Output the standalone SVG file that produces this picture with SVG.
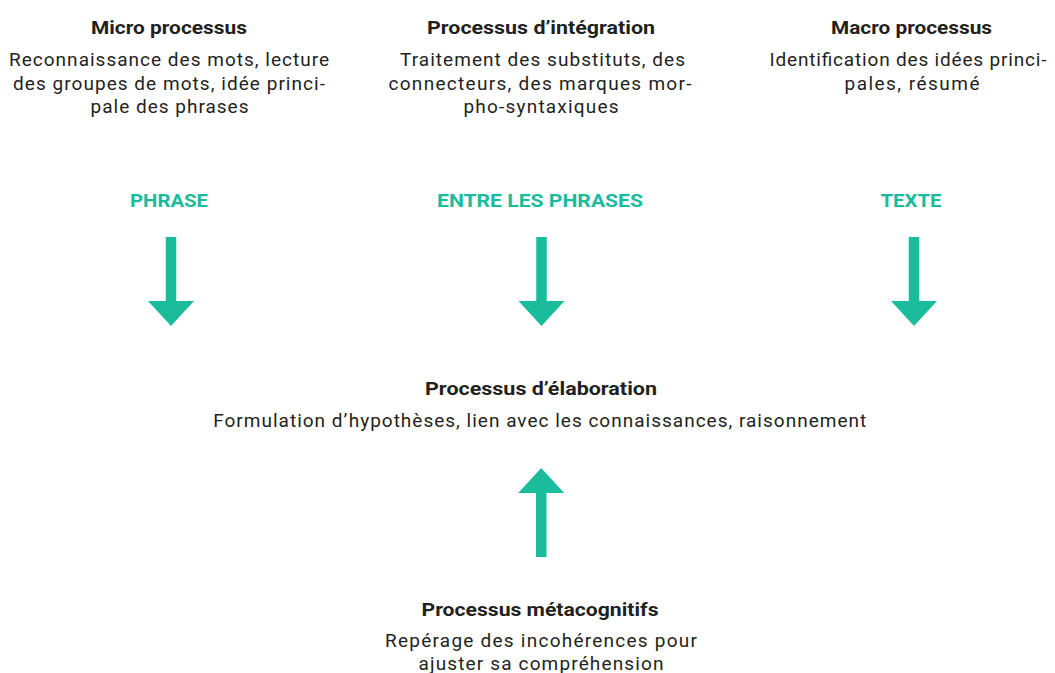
<svg xmlns="http://www.w3.org/2000/svg" width="1055" height="673" viewBox="0 0 1055 673">
<style>
text{font-family:Roboto,"Liberation Sans",Arial,sans-serif;font-size:19px;fill:#231F20;text-anchor:middle}
.h{font-weight:bold}
.lvl{font-weight:bold;fill:#1ABC9C}
.arrow{fill:#1ABC9C}
</style>
<rect width="1055" height="673" fill="#FFFFFF"/>
<g id="micro">
<text class="h" x="169" y="34" textLength="156" lengthAdjust="spacingAndGlyphs">Micro processus</text>
<text x="169" y="66" textLength="320" lengthAdjust="spacing">Reconnaissance des mots, lecture</text>
<text x="169" y="89.5" textLength="312" lengthAdjust="spacing">des groupes de mots, idée princi-</text>
<text x="169.5" y="113" textLength="158" lengthAdjust="spacing">pale des phrases</text>
</g>
<g id="integration">
<text class="h" x="541" y="34" textLength="228" lengthAdjust="spacingAndGlyphs">Processus d’intégration</text>
<text x="542.5" y="66" textLength="285" lengthAdjust="spacing">Traitement des substituts, des</text>
<text x="540" y="89.5" textLength="303" lengthAdjust="spacing">connecteurs, des marques mor-</text>
<text x="541" y="113" textLength="155" lengthAdjust="spacing">pho-syntaxiques</text>
</g>
<g id="macro">
<text class="h" x="911.5" y="34" textLength="161" lengthAdjust="spacingAndGlyphs">Macro processus</text>
<text x="908" y="66" textLength="277" lengthAdjust="spacing">Identification des idées princi-</text>
<text x="912" y="89.5" textLength="135" lengthAdjust="spacing">pales, résumé</text>
</g>
<g id="phrase">
<text class="lvl" x="169" y="206.5" textLength="78" lengthAdjust="spacingAndGlyphs">PHRASE</text>
</g>
<g id="entre">
<text class="lvl" x="540" y="206.5" textLength="206" lengthAdjust="spacingAndGlyphs">ENTRE LES PHRASES</text>
</g>
<g id="texte">
<text class="lvl" x="911" y="206.5" textLength="61" lengthAdjust="spacingAndGlyphs">TEXTE</text>
</g>
<g id="elaboration">
<text class="h" x="541" y="395" textLength="232" lengthAdjust="spacingAndGlyphs">Processus d’élaboration</text>
<text x="539.7" y="426.5" textLength="653" lengthAdjust="spacing">Formulation d’hypothèses, lien avec les connaissances, raisonnement</text>
</g>
<g id="metacognitifs">
<text class="h" x="540" y="616" textLength="237" lengthAdjust="spacingAndGlyphs">Processus métacognitifs</text>
<text x="541" y="646.7" textLength="312" lengthAdjust="spacing">Repérage des incohérences pour</text>
<text x="541" y="669.5" textLength="245" lengthAdjust="spacing">ajuster sa compréhension</text>
</g>
<g id="connectors">
<polygon class="arrow" points="165.75,237 176.25,237 176.25,301 194,301 171,326 148,301 165.75,301"/>
<polygon class="arrow" points="536.25,237 546.75,237 546.75,301 564.5,301 541.5,326 518.5,301 536.25,301"/>
<polygon class="arrow" points="908.75,237 919.25,237 919.25,301 937,301 914,326 891,301 908.75,301"/>
<polygon class="arrow" points="536,557 546.5,557 546.5,493 564.2,493 541.2,468 518.2,493 536,493"/>
</g>
</svg>
